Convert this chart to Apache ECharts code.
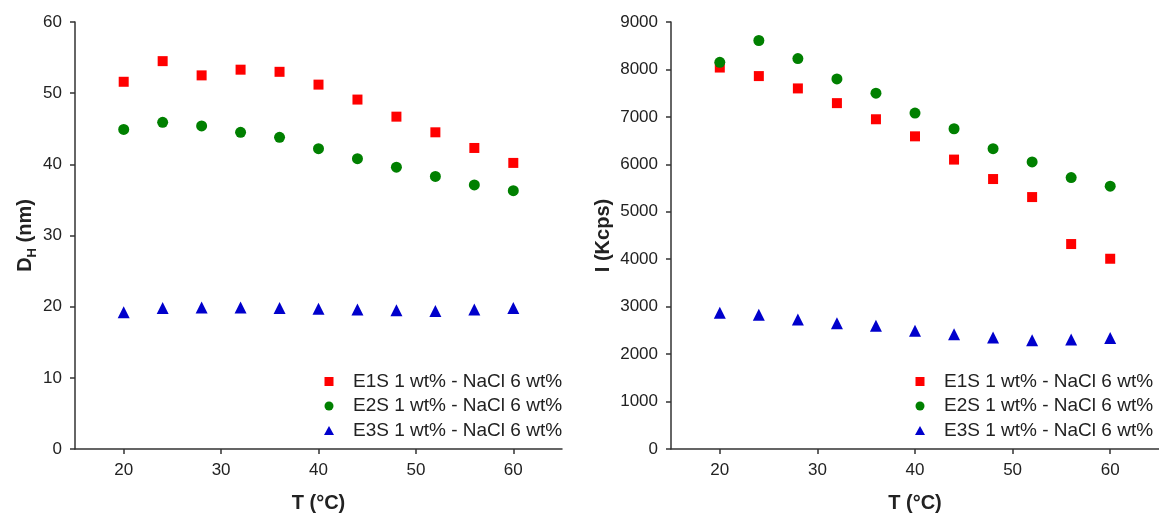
<!DOCTYPE html>
<html>
<head>
<meta charset="utf-8">
<script src="https://cdn.jsdelivr.net/npm/echarts@6/dist/echarts.min.js"></script>
<style>html,body{margin:0;padding:0;background:#fff}#c{width:1159px;height:515px}</style>
</head>
<body>
<div id="c"></div>
<script>
const temps = [20, 24, 28, 32, 36, 40, 44, 48, 52, 56, 60];
const seriesNames = ['E1S 1 wt% - NaCl 6 wt%', 'E2S 1 wt% - NaCl 6 wt%', 'E3S 1 wt% - NaCl 6 wt%'];
const xTicks = [20, 30, 40, 50, 60];
// Left panel: hydrodynamic diameter D_H (nm)
const dhE1S = [51.6, 54.5, 52.5, 53.3, 53.0, 51.2, 49.1, 46.7, 44.5, 42.3, 40.2];
const dhE2S = [44.9, 45.9, 45.4, 44.5, 43.8, 42.2, 40.8, 39.6, 38.3, 37.1, 36.3];
const dhE3S = [19.2, 19.8, 19.9, 19.9, 19.8, 19.7, 19.6, 19.5, 19.4, 19.6, 19.8];
// Right panel: scattered intensity I (Kcps)
const iE1S = [8040, 7860, 7600, 7290, 6950, 6590, 6100, 5690, 5310, 4320, 4010];
const iE2S = [8150, 8610, 8230, 7800, 7500, 7080, 6750, 6330, 6050, 5720, 5540];
const iE3S = [2870, 2830, 2730, 2650, 2600, 2490, 2420, 2350, 2290, 2310, 2340];

const colors = ['#ff0000', '#008000', '#0000cc'];
const symbols = ['rect', 'circle', 'triangle'];
const sizes = [10, 11, 12];
const icons = [
  'path://M0,0H10V10H0Z',
  'path://M5,0A5,5,0,1,1,5,10A5,5,0,1,1,5,0Z',
  'path://M5,0L10,9L0,9Z'
];
const FONT = 'Liberation Sans, Arial, sans-serif';

const pair = (ys) => temps.map((t, i) => [t, ys[i]]);
const axisLine = { show: true, lineStyle: { color: '#333', width: 1.5 } };
const axisTick = { show: true, length: 5, lineStyle: { color: '#333', width: 1.5 } };
const labelStyle = { color: '#222', fontSize: 17, fontFamily: FONT };

function xAx(gi) {
  return {
    type: 'value', gridIndex: gi, min: 15, max: 65,
    name: 'T (°C)', nameLocation: 'middle', nameGap: 44,
    nameTextStyle: { fontSize: 20, fontWeight: 'bold', color: '#222', fontFamily: FONT },
    axisLine, axisTick: Object.assign({ customValues: xTicks }, axisTick),
    axisLabel: Object.assign({ customValues: xTicks, margin: 13 }, labelStyle),
    splitLine: { show: false }
  };
}

function legend(left) {
  return {
    orient: 'vertical', left: left, top: 367,
    itemWidth: 38, itemHeight: 9, itemGap: 5.5,
    textStyle: { fontSize: 19, color: '#222', lineHeight: 19, fontFamily: FONT },
    data: seriesNames.map((n, i) => ({ name: n, icon: icons[i], itemStyle: { color: colors[i] } })),
    selectedMode: false
  };
}

const dataSets = [[dhE1S, dhE2S, dhE3S], [iE1S, iE2S, iE3S]];
const series = [];
dataSets.forEach((set, gi) => {
  set.forEach((ys, si) => {
    series.push({
      type: 'scatter', name: seriesNames[si], xAxisIndex: gi, yAxisIndex: gi,
      symbol: symbols[si], symbolSize: sizes[si],
      itemStyle: { color: colors[si], opacity: 1 },
      data: pair(ys)
    });
  });
});

const chart = echarts.init(document.getElementById('c'), null, { renderer: 'canvas' });
chart.setOption({
  animation: false,
  backgroundColor: '#fff',
  grid: [
    { left: 75, top: 22, width: 487, height: 427, outerBoundsMode: 'none', containLabel: false },
    { left: 671, top: 22, width: 488, height: 427, outerBoundsMode: 'none', containLabel: false }
  ],
  legend: [legend(319), legend(910)],
  xAxis: [xAx(0), xAx(1)],
  yAxis: [
    {
      type: 'value', gridIndex: 0, min: 0, max: 60, interval: 10,
      name: '{a|D}{s|H}{a| (nm)}', nameLocation: 'middle', nameGap: 34,
      nameTextStyle: { rich: {
        a: { fontSize: 20, fontWeight: 'bold', color: '#222', lineHeight: 28, fontFamily: FONT },
        s: { fontSize: 13, fontWeight: 'bold', color: '#222', lineHeight: 13, verticalAlign: 'bottom', fontFamily: FONT }
      } },
      axisLine, axisTick, axisLabel: Object.assign({ margin: 13 }, labelStyle),
      splitLine: { show: false }
    },
    {
      type: 'value', gridIndex: 1, min: 0, max: 9000, interval: 1000,
      name: 'I (Kcps)', nameLocation: 'middle', nameGap: 58,
      nameTextStyle: { fontSize: 20, fontWeight: 'bold', color: '#222', fontFamily: FONT },
      axisLine, axisTick,
      axisLabel: Object.assign({ margin: 13, formatter: (v) => String(v) }, labelStyle),
      splitLine: { show: false }
    }
  ],
  series
});
</script>
</body>
</html>
